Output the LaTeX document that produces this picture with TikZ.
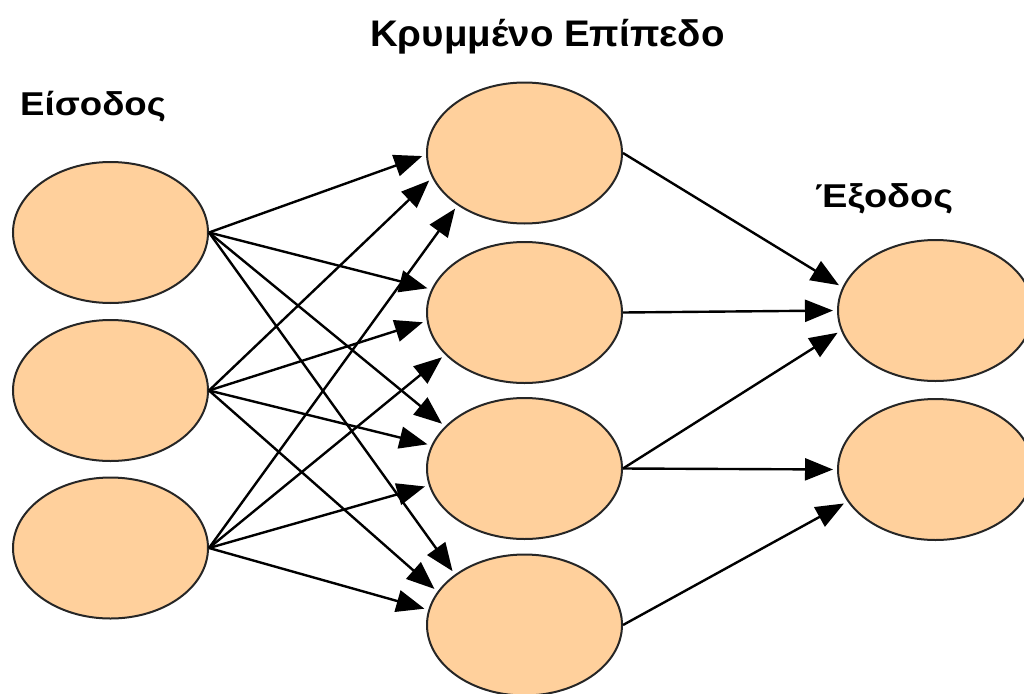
\documentclass[tikz,border=0pt]{standalone}
\usepackage{graphicx}
\usepackage{fontspec}
\setmainfont{Liberation Sans}
\usetikzlibrary{shapes.geometric,arrows.meta}
\definecolor{peach}{HTML}{FFD09C}
\definecolor{rim}{HTML}{262626}
\begin{document}
\begin{tikzpicture}[x=1pt,y=-1pt,
  neuron/.style={ellipse,draw=rim,line width=2pt,fill=peach,minimum width=195pt,minimum height=141pt,inner sep=0pt},
  link/.style={line width=2.4pt,-{Triangle[length=28pt,width=22pt]},shorten >=4pt},
  lbl/.style={font=\bfseries,anchor=base west,inner sep=0pt}]
\useasboundingbox (0,0) rectangle (1024,693);
\clip (0,0) rectangle (1024,693);
% nodes
\node[neuron] (i1) at (110.5,232.5) {};
\node[neuron] (i2) at (110.5,390.5) {};
\node[neuron] (i3) at (110.5,548) {};
\node[neuron] (h1) at (524.5,153) {};
\node[neuron] (h2) at (524.5,312.5) {};
\node[neuron] (h3) at (524.5,468.5) {};
\node[neuron] (h4) at (524.5,625) {};
\node[neuron] (o1) at (935.5,310.5) {};
\node[neuron] (o2) at (935.5,469.5) {};
% labels
\node[lbl] (tin) at (20,115) {\scalebox{1.11}[1]{\fontsize{33}{36}\selectfont Είσοδος}};
\node[lbl] (thid) at (370,47) {\scalebox{1.04}[1]{\fontsize{37}{40}\selectfont Κρυμμένο Επίπεδο}};
\node[lbl] (tout) at (815,207) {\scalebox{1.15}[1]{\fontsize{33}{36}\selectfont Έξοδος}};
% input -> hidden
\draw[link] (i1.east) -- (h1.181);
\draw[link] (i1.east) -- (h2.166);
\draw[link] (i1.east) -- (h3.152);
\draw[link] (i1.east) -- (h4.144);
\draw[link] (i2.east) -- (h1.195);
\draw[link] (i2.east) -- (h2.185);
\draw[link] (i2.east) -- (h3.166);
\draw[link] (i2.east) -- (h4.159);
\draw[link] (i3.east) -- (h1.218);
\draw[link] (i3.east) -- (h2.208);
\draw[link] (i3.east) -- (h3.190);
\draw[link] (i3.east) -- (h4.171);
% hidden -> output
\draw[link] (h1.east) -- (o1.166);
\draw[link] (h2.east) -- (o1.180);
\draw[link] (h3.east) -- (o1.192);
\draw[link] (h3.east) -- (o2.180);
\draw[link] (h4.east) -- (o2.200);
\end{tikzpicture}
\end{document}
